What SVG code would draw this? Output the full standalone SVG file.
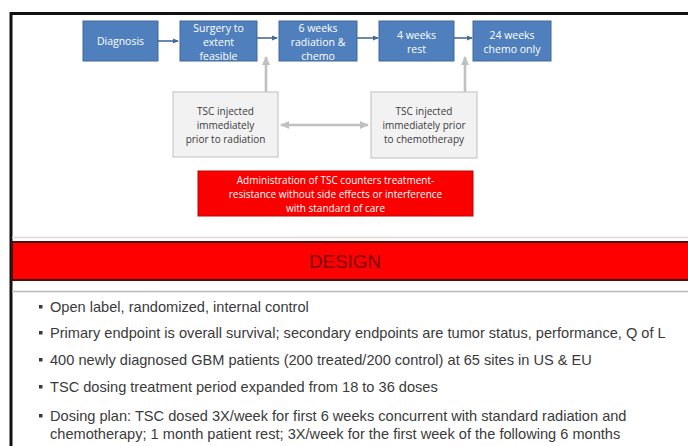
<svg xmlns="http://www.w3.org/2000/svg" width="688" height="446" viewBox="0 0 688 446">
<style>
.flow{fill:#4f7fbd;stroke:#41689c;stroke-width:1}
.ft{font-family:"Open Sans","Liberation Sans",sans-serif;font-size:10.5px;fill:#ffffff;text-anchor:middle}
.tsc{fill:#f2f2f2;stroke:#c8c8c8;stroke-width:1.2}
.tt{font-family:"Open Sans","Liberation Sans",sans-serif;font-size:10px;fill:#3a3a3a;text-anchor:middle}
.rt{font-family:"Open Sans","Liberation Sans",sans-serif;font-size:10px;fill:#ffffff;text-anchor:middle}
.bt{font-family:"Liberation Sans",Arial,sans-serif;font-size:14.6px;fill:#3a3a3a}
.blue{stroke:#46699a;stroke-width:1.6;fill:none}
.gray{stroke:#c0c0c0;stroke-width:2.6;fill:none}
</style>
<defs>
<marker id="ab" markerWidth="6" markerHeight="6" refX="5" refY="3" orient="auto" markerUnits="userSpaceOnUse"><path d="M0,0.5 L6,3 L0,5.5 z" fill="#46699a"/></marker>
<marker id="ag" markerWidth="10" markerHeight="10" refX="8" refY="5" orient="auto-start-reverse" markerUnits="userSpaceOnUse"><path d="M0,1 L9,5 L0,9 z" fill="#c0c0c0"/></marker>
</defs>
<rect width="688" height="446" fill="#ffffff"/>
<g id="frame">
<line x1="10" y1="13.5" x2="688" y2="13.5" stroke="#111" stroke-width="3"/>
<line x1="11" y1="12" x2="11" y2="446" stroke="#111" stroke-width="3"/>
<line x1="12" y1="237.5" x2="688" y2="237.5" stroke="#e6d6d6" stroke-width="1.5"/>
</g>
<g id="connectors">
<line class="blue" x1="158" y1="41" x2="178" y2="41" marker-end="url(#ab)"/>
<line class="blue" x1="257" y1="38" x2="277" y2="38" marker-end="url(#ab)"/>
<line class="blue" x1="357" y1="38" x2="378" y2="38" marker-end="url(#ab)"/>
<line class="blue" x1="454" y1="38" x2="472" y2="38" marker-end="url(#ab)"/>
<line class="gray" x1="266" y1="92" x2="266" y2="57" marker-end="url(#ag)"/>
<line class="gray" x1="465" y1="92" x2="465" y2="57" marker-end="url(#ag)"/>
<line class="gray" x1="281" y1="125" x2="368" y2="125" marker-start="url(#ag)" marker-end="url(#ag)"/>
</g>
<g id="diagnosis">
<rect class="flow" x="83" y="21" width="75" height="40"/>
<text class="ft" x="120.5" y="45">Diagnosis</text>
</g>
<g id="surgery">
<rect class="flow" x="180" y="21" width="77" height="40"/>
<text class="ft" x="218.5" y="32">Surgery to</text>
<text class="ft" x="218.5" y="46">extent</text>
<text class="ft" x="218.5" y="60">feasible</text>
</g>
<g id="radiation">
<rect class="flow" x="279" y="21" width="78" height="40"/>
<text class="ft" x="318" y="32">6 weeks</text>
<text class="ft" x="318" y="46">radiation &amp;</text>
<text class="ft" x="318" y="60">chemo</text>
</g>
<g id="rest">
<rect class="flow" x="379" y="21" width="75" height="40"/>
<text class="ft" x="416.5" y="39">4 weeks</text>
<text class="ft" x="416.5" y="53">rest</text>
</g>
<g id="chemo-only">
<rect class="flow" x="473" y="21" width="78" height="40"/>
<text class="ft" x="512" y="39">24 weeks</text>
<text class="ft" x="512" y="53">chemo only</text>
</g>
<g id="tsc-radiation">
<rect class="tsc" x="173" y="92" width="105" height="65"/>
<text class="tt" x="225.5" y="115">TSC injected</text>
<text class="tt" x="225.5" y="129">immediately</text>
<text class="tt" x="225.5" y="143">prior to radiation</text>
</g>
<g id="tsc-chemo">
<rect class="tsc" x="371" y="92" width="106" height="66"/>
<text class="tt" x="424" y="115">TSC injected</text>
<text class="tt" x="424" y="129">immediately prior</text>
<text class="tt" x="424" y="143">to chemotherapy</text>
</g>
<g id="admin-note">
<rect x="198" y="171" width="275" height="45" fill="#fa0000" stroke="#c40000" stroke-width="1"/>
<text class="rt" x="335.5" y="184">Administration of TSC counters treatment-</text>
<text class="rt" x="335.5" y="198">resistance without side effects or interference</text>
<text class="rt" x="335.5" y="212">with standard of care</text>
</g>
<g id="design-band">
<rect x="12" y="242" width="680" height="38" fill="#ff0000" stroke="#4a1010" stroke-width="2"/>
<text x="345" y="268" font-family="Liberation Sans, Arial, sans-serif" font-size="18" fill="#7a0a0a" text-anchor="middle" textLength="72" lengthAdjust="spacingAndGlyphs">DESIGN</text>
</g>
<g id="bullets">
<line x1="12" y1="291.5" x2="688" y2="291.5" stroke="#b8b8b8" stroke-width="1.5"/>
<g fill="#3a3a3a">
<rect x="39" y="305" width="3.5" height="3.5"/>
<rect x="39" y="331" width="3.5" height="3.5"/>
<rect x="39" y="358" width="3.5" height="3.5"/>
<rect x="39" y="385" width="3.5" height="3.5"/>
<rect x="39" y="414" width="3.5" height="3.5"/>
</g>
<text class="bt" x="50" y="312">Open label, randomized, internal control</text>
<text class="bt" x="50" y="338">Primary endpoint is overall survival; secondary endpoints are tumor status, performance, Q of L</text>
<text class="bt" x="50" y="365">400 newly diagnosed GBM patients (200 treated/200 control) at 65 sites in US &amp; EU</text>
<text class="bt" x="50" y="392">TSC dosing treatment period expanded from 18 to 36 doses</text>
<text class="bt" x="50" y="421">Dosing plan: TSC dosed 3X/week for first 6 weeks concurrent with standard radiation and</text>
<text class="bt" x="50" y="439">chemotherapy; 1 month patient rest; 3X/week for the first week of the following 6 months</text>
</g>
</svg>
